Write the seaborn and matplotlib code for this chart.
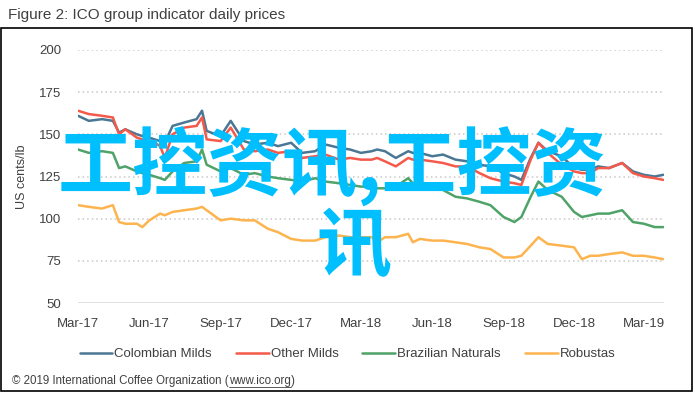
import pandas as pd
import matplotlib
matplotlib.use("Agg")
import matplotlib.pyplot as plt
import matplotlib.dates as mdates
from matplotlib.patches import Rectangle
import seaborn as sns

# ── Datos (US cents/lb) ────────────────────────────────────────────────
fechas = [
    "2017-03-01", "2017-03-15", "2017-04-01", "2017-04-15", "2017-04-23",
    "2017-05-01", "2017-05-16", "2017-05-23", "2017-06-01", "2017-06-15",
    "2017-06-21", "2017-07-01", "2017-07-16", "2017-08-01", "2017-08-08",
    "2017-08-14", "2017-09-01", "2017-09-14", "2017-10-01", "2017-10-15",
    "2017-11-01", "2017-11-14", "2017-12-01", "2017-12-15", "2018-01-01",
    "2018-01-14", "2018-02-01", "2018-02-15", "2018-03-01", "2018-03-15",
    "2018-03-22", "2018-04-01", "2018-04-15", "2018-05-01", "2018-05-07",
    "2018-05-16", "2018-06-01", "2018-06-15", "2018-07-01", "2018-07-16",
    "2018-08-01", "2018-08-15", "2018-09-01", "2018-09-15", "2018-09-24",
    "2018-10-06", "2018-10-16", "2018-10-28", "2018-11-15", "2018-12-01",
    "2018-12-11", "2018-12-22", "2019-01-01", "2019-01-15", "2019-02-01",
    "2019-02-15", "2019-03-01", "2019-03-15", "2019-03-26",
]

colombian_milds = [
    161, 158, 159, 158, 151, 153, 150, 149, 148, 146,
    145, 155, 157, 159, 164, 152, 149, 158, 146, 144,
    145, 143, 145, 139, 140, 144, 142, 141, 139, 140,
    141, 140, 136, 140, 139, 139, 137, 138, 135, 134,
    132, 131, 127, 125, 123, 136, 145, 140, 137, 130,
    129, 129, 131, 130, 133, 128, 126, 125, 126,
]
other_milds = [
    164, 162, 161, 160, 150, 153, 148, 147, 147, 143,
    136, 150, 154, 155, 160, 147, 146, 154, 141, 140,
    141, 139, 140, 136, 137, 138, 135, 136, 135, 135,
    136, 134, 131, 136, 135, 135, 134, 133, 131, 131,
    127, 124, 122, 121, 120, 135, 145, 139, 132, 128,
    127, 127, 130, 130, 133, 127, 125, 124, 123,
]
brazilian_naturals = [
    141, 139, 140, 139, 130, 131, 128, 127, 126, 124,
    123, 128, 133, 134, 141, 132, 128, 130, 126, 127,
    125, 124, 123, 122, 124, 122, 121, 120, 119, 119,
    118, 118, 119, 124, 121, 119, 121, 117, 113, 112,
    110, 108, 101, 98, 101, 113, 122, 117, 113, 104,
    101, 102, 103, 103, 105, 98, 97, 95, 95,
]
robustas = [
    108, 107, 106, 108, 98, 97, 97, 95, 99, 103,
    102, 104, 105, 106, 107, 105, 99, 100, 99, 99,
    94, 92, 88, 87, 87, 89, 90, 89, 89, 89,
    86, 89, 89, 91, 86, 88, 87, 87, 86, 85,
    83, 82, 77, 77, 78, 84, 89, 85, 84, 83,
    76, 78, 78, 79, 80, 78, 78, 77, 76,
]

series = {
    "Colombian Milds": colombian_milds,
    "Other Milds": other_milds,
    "Brazilian Naturals": brazilian_naturals,
    "Robustas": robustas,
}
colores = {
    "Colombian Milds": "#4A7793",
    "Other Milds": "#F4594A",
    "Brazilian Naturals": "#4FA368",
    "Robustas": "#FDB44E",
}
ticks_x = pd.date_range("2017-03-01", "2019-03-01", freq="3MS")

df = pd.concat(
    [pd.DataFrame({"fecha": pd.to_datetime(fechas), "precio": v, "grupo": k})
     for k, v in series.items()],
    ignore_index=True,
)

sns.set_style("white")
plt.rcParams["font.family"] = ["Liberation Sans", "DejaVu Sans"]

fig = plt.figure(figsize=(6.95, 3.94), dpi=100)
ax = fig.add_axes([78 / 695, 1 - 303 / 394, (664 - 78) / 695, (303 - 50) / 394])

sns.lineplot(data=df, x="fecha", y="precio", hue="grupo", palette=colores,
             linewidth=1.8, ax=ax, legend=False)

ax.set_ylim(50, 200)
ax.set_yticks([50, 75, 100, 125, 150, 175, 200])
ax.set_xlim(pd.Timestamp("2017-03-01"), pd.Timestamp("2019-03-27"))
ax.set_xticks(ticks_x)
ax.xaxis.set_major_formatter(mdates.DateFormatter("%b-%y"))
for yv in [75, 100, 125, 150, 175, 200]:
    ax.axhline(yv, color="#C8C8C8", linestyle=(0, (1, 2)), linewidth=1.1, zorder=0)
ax.axhline(50, color="#D9D9D9", linewidth=1.2, zorder=0)
for s in ax.spines.values():
    s.set_visible(False)
ax.tick_params(axis="both", length=0, labelsize=9.5, labelcolor="#404040")
ax.tick_params(axis="x", pad=11)
ax.tick_params(axis="y", pad=12)
ax.set_xlabel("")
ax.set_ylabel("US cents/lb", fontsize=9, color="#404040", labelpad=8)

# Leyenda
handles = [plt.Line2D([], [], color=colores[k], linewidth=1.8) for k in series]
fig.legend(handles, list(series.keys()), loc="center", ncol=4,
           bbox_to_anchor=(0.5, 1 - 354 / 394), frameon=False, fontsize=9.5,
           handlelength=2.5, handletextpad=0.15, columnspacing=1.8,
           labelcolor="#404040")

# Marco y título
fig.patches.append(Rectangle((1 / 695, 3 / 394), 691 / 695, (391 - 28) / 394,
                             transform=fig.transFigure, fill=False,
                             edgecolor="black", linewidth=1.2))
fig.text(8 / 695, 1 - 15 / 394, "Figure 2: ICO group indicator daily prices",
         fontsize=11, color="#404040", va="center", ha="left")

# Pie de página con enlace subrayado
r = fig.canvas.get_renderer()
t1 = fig.text(12 / 695, 1 - 381 / 394, "© 2019 International Coffee Organization (",
              fontsize=8.3, color="#404040", va="center", ha="left")
x1 = t1.get_window_extent(r).x1 / fig.bbox.width
t2 = fig.text(x1, 1 - 381 / 394, "www.ico.org", fontsize=8.3, color="#404040",
              va="center", ha="left")
bb = t2.get_window_extent(r)
x2 = bb.x1 / fig.bbox.width
fig.add_artist(plt.Line2D([x1, x2], [bb.y0 / fig.bbox.height] * 2,
                          color="#404040", linewidth=0.6))
fig.text(x2, 1 - 381 / 394, ")", fontsize=8.3, color="#404040", va="center", ha="left")

# Marca de agua (se superpone al gráfico como en el original)
cjk = ["Noto Sans CJK SC", "DejaVu Sans"]
fig.text(58 / 695, 1 - 167 / 394, "工控资讯,工控资", fontsize=54, color="#00BFFF",
         family=cjk, fontweight="bold", va="center", ha="left")
fig.text(316 / 695, 1 - 248 / 394, "讯", fontsize=54, color="#00BFFF",
         family=cjk, fontweight="bold", va="center", ha="left")

fig.savefig("out.png", dpi=100)
